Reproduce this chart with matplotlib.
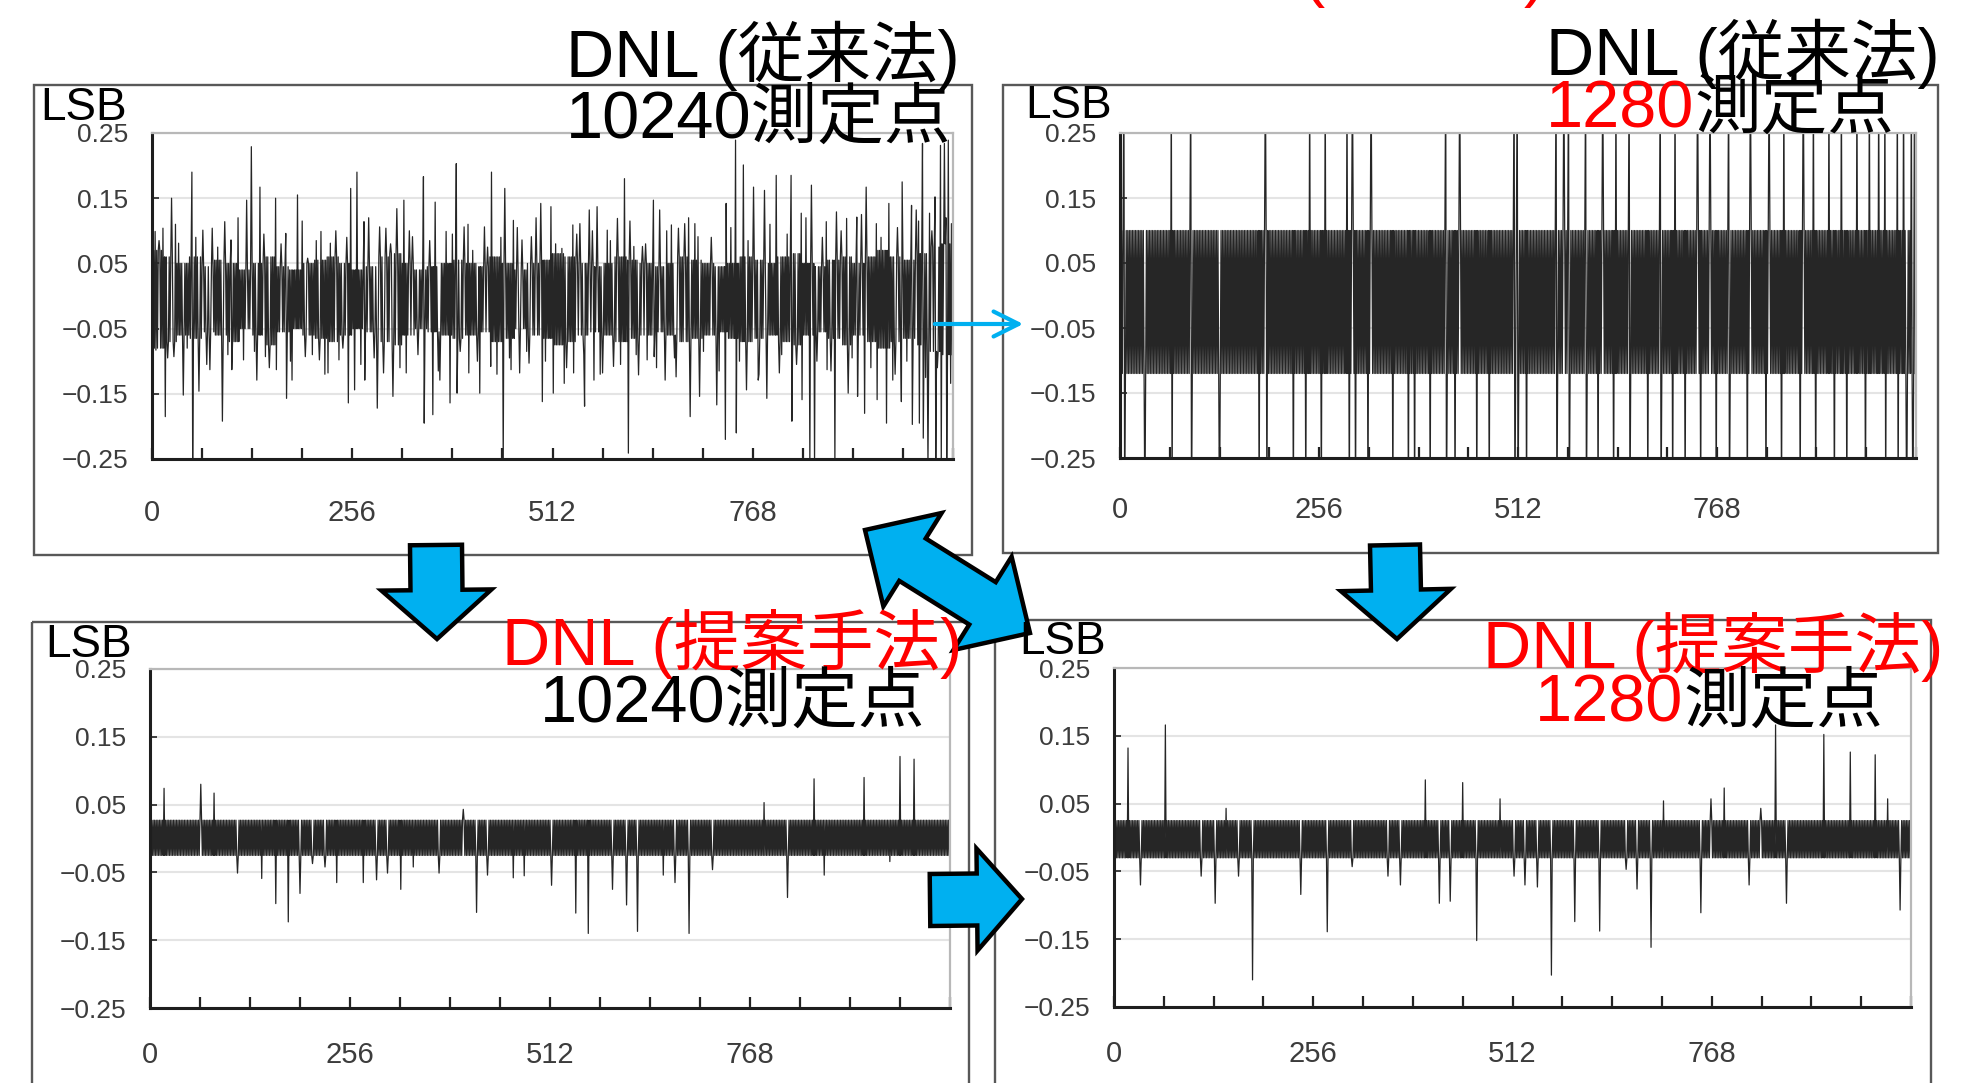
import numpy as np
import matplotlib
matplotlib.use("Agg")
import matplotlib.pyplot as plt
from matplotlib.patches import Polygon, Rectangle, FancyArrowPatch

W, H = 1977, 1083
plt.rcParams['font.family'] = ['Liberation Sans', 'Noto Sans CJK JP', 'DejaVu Sans']

codes = np.arange(1024)

# ---- 従来法 10240測定点 (ノイズ帯の上下、16コードごと) ----
tl_hi = [0.07, 0.06, 0.05, 0.06, 0.045, 0.055, 0.05, 0.04,
         0.05, 0.06, 0.045, 0.04, 0.05, 0.055, 0.06, 0.05,
         0.04, 0.045, 0.06, 0.065, 0.05, 0.04, 0.045, 0.05,
         0.055, 0.05, 0.045, 0.06, 0.05, 0.04, 0.05, 0.055,
         0.065, 0.06, 0.05, 0.045, 0.05, 0.06, 0.055, 0.05,
         0.045, 0.05, 0.06, 0.055, 0.05, 0.045, 0.05, 0.06,
         0.055, 0.05, 0.06, 0.065, 0.05, 0.045, 0.055, 0.06,
         0.05, 0.06, 0.07, 0.06, 0.055, 0.065, 0.075, 0.08]
tl_lo = [-0.08, -0.07, -0.06, -0.065, -0.055, -0.06, -0.07, -0.05,
         -0.06, -0.075, -0.055, -0.05, -0.06, -0.065, -0.07, -0.06,
         -0.05, -0.055, -0.07, -0.075, -0.06, -0.05, -0.055, -0.06,
         -0.065, -0.06, -0.055, -0.07, -0.065, -0.05, -0.06, -0.065,
         -0.075, -0.07, -0.06, -0.055, -0.06, -0.07, -0.065, -0.06,
         -0.055, -0.06, -0.07, -0.065, -0.06, -0.055, -0.065, -0.07,
         -0.065, -0.06, -0.07, -0.075, -0.06, -0.055, -0.065, -0.075,
         -0.06, -0.07, -0.08, -0.07, -0.065, -0.075, -0.085, -0.09]
# 中くらいの振れ
tl_mid_code = [9, 20, 30, 45, 56, 70, 84, 97, 110, 131, 143, 150, 165, 177, 192, 205,
               210, 221, 235, 244, 249, 267, 277, 284, 305, 317, 329, 340, 355, 366,
               384, 394, 404, 416, 429, 441, 446, 457, 467, 479, 491, 503, 516, 530,
               543, 552, 563, 573, 586, 599, 611, 619, 631, 645, 658, 668, 686, 705,
               715, 725, 740, 751, 762, 776, 790, 805, 812, 824, 836, 850, 857, 868,
               881, 895, 907, 919, 932, 950, 953, 965, 980, 989, 997, 1004, 1015]
tl_mid_val = [0.085, -0.095, 0.11, -0.08, 0.09, -0.105, 0.075, -0.09, 0.12, -0.085,
              0.095, -0.11, 0.08, -0.1, 0.115, -0.09, 0.085, -0.12, 0.1, -0.08,
              0.09, -0.105, 0.12, -0.095, 0.08, -0.11, 0.1, -0.09, 0.085, -0.115,
              0.095, -0.085, 0.11, -0.1, 0.075, -0.12, 0.09, -0.095, 0.105, -0.085,
              0.12, -0.1, 0.08, -0.11, 0.095, -0.09, 0.1, -0.12, 0.085, -0.105,
              0.115, -0.09, 0.08, -0.11, 0.1, -0.095, 0.12, -0.085, 0.09, -0.115,
              0.105, -0.1, 0.085, -0.12, 0.11, -0.09, 0.095, -0.105, 0.12, -0.1,
              0.09, -0.115, 0.1, -0.095, 0.125, -0.11, 0.09, -0.12, 0.105, -0.1,
              0.115, -0.125, 0.1, -0.11, 0.12]
tl_up_code = [4, 14, 25, 34, 51, 65, 77, 93, 101, 121, 127, 138, 158, 171, 186, 199,
              216, 228, 254, 262, 271, 291, 299, 313, 322, 333, 347, 362, 376, 389,
              399, 410, 425, 434, 451, 462, 473, 485, 497, 510, 524, 538, 547, 559,
              569, 582, 595, 604, 616, 627, 641, 649, 664, 673, 681, 694, 698, 734,
              746, 756, 769, 783, 798, 817, 830, 843, 862, 875, 888, 901, 913, 926,
              942, 959, 971, 977, 985, 994, 1001, 1008, 1013, 1018, 1022]
tl_up_val = [0.099, 0.104, 0.150, 0.081, 0.190, 0.101, 0.104, 0.114, 0.086, 0.147,
             0.229, 0.167, 0.150, 0.096, 0.155, 0.058, 0.099, 0.081, 0.165, 0.190,
             0.114, 0.106, 0.104, 0.134, 0.147, 0.091, 0.183, 0.144, 0.099, 0.203,
             0.106, 0.070, 0.106, 0.190, 0.165, 0.116, 0.086, 0.091, 0.142, 0.137,
             0.073, 0.109, 0.111, 0.132, 0.137, 0.101, 0.119, 0.180, 0.076, 0.076,
             0.147, 0.132, 0.109, 0.104, 0.111, 0.111, 0.091, 0.142, 0.239, 0.201,
             0.167, 0.162, 0.185, 0.185, 0.127, 0.170, 0.114, 0.129, 0.119, 0.121,
             0.167, 0.111, 0.142, 0.175, 0.139, 0.132, 0.234, 0.127, 0.152, 0.231,
             0.234, 0.239, 0.111]
tl_dn_code = [5, 17, 28, 40, 52, 60, 74, 90, 102, 117, 134, 145, 159, 172, 179, 196,
              214, 225, 239, 251, 259, 272, 288, 296, 308, 325, 348, 359, 368, 381,
              390, 405, 419, 433, 449, 459, 470, 482, 499, 513, 527, 539, 553, 565,
              576, 590, 609, 622, 633, 642, 656, 670, 688, 700, 722, 733, 747, 760,
              775, 786, 802, 818, 831, 841, 847, 863, 873, 890, 902, 911, 927, 939,
              947, 958, 972, 981, 986, 992, 1002, 1009, 1016, 1021]
tl_dn_val = [-0.083, -0.185, -0.093, -0.152, -0.26, -0.146, -0.113, -0.192, -0.113,
             -0.098, -0.129, -0.093, -0.113, -0.157, -0.129, -0.093, -0.098, -0.118,
             -0.098, -0.164, -0.144, -0.129, -0.172, -0.118, -0.154, -0.118, -0.195,
             -0.182, -0.129, -0.164, -0.149, -0.118, -0.149, -0.108, -0.26, -0.113,
             -0.118, -0.103, -0.162, -0.149, -0.134, -0.118, -0.169, -0.129, -0.118,
             -0.108, -0.241, -0.121, -0.098, -0.093, -0.129, -0.124, -0.185, -0.154,
             -0.167, -0.220, -0.210, -0.144, -0.129, -0.157, -0.118, -0.192, -0.159,
             -0.26, -0.26, -0.113, -0.26, -0.149, -0.154, -0.180, -0.159, -0.195,
             -0.129, -0.162, -0.197, -0.195, -0.218, -0.26, -0.26, -0.26, -0.26, -0.134]

# ---- 従来法 1280測定点 ----
tr_hi, tr_lo = 0.10, -0.12
tr_up_code = [5, 66, 91, 187, 244, 264, 292, 299, 323, 419, 437, 507, 511, 561, 571,
              577, 599, 621, 638, 655, 695, 714, 743, 759, 783, 811, 835, 854, 879,
              892, 912, 928, 948, 964, 976, 984, 1000, 1008, 1018, 1022]
tr_dn_code = [6, 32, 67, 92, 128, 179, 189, 223, 239, 259, 295, 303, 319, 351, 371,
              379, 399, 420, 431, 459, 475, 508, 512, 523, 562, 578, 600, 615, 635,
              656, 679, 696, 711, 727, 747, 767, 784, 807, 831, 851, 875, 895, 919,
              935, 959, 985, 1001, 1012, 1020]
tr_up_val, tr_dn_val = 0.35, -0.35   # 軸外まで振り切れ

# ---- 提案手法 10240測定点 ----
bl_hi, bl_lo = 0.027, -0.025
bl_up_code = [18, 65, 82, 401, 786, 850, 914, 960, 978]
bl_up_val = [0.074, 0.080, 0.067, 0.043, 0.053, 0.088, 0.090, 0.121, 0.117]
bl_dn_code = [112, 143, 161, 177, 192, 208, 224, 239, 273, 290, 304, 321, 337, 370,
              418, 432, 465, 479, 514, 545, 561, 592, 610, 624, 657, 672, 690, 720,
              816, 863, 947]
bl_dn_val = [-0.051, -0.059, -0.096, -0.123, -0.081, -0.037, -0.042, -0.065, -0.065,
             -0.061, -0.051, -0.075, -0.042, -0.051, -0.109, -0.054, -0.058, -0.055,
             -0.069, -0.110, -0.140, -0.075, -0.098, -0.137, -0.054, -0.065, -0.140,
             -0.046, -0.087, -0.054, -0.034]

# ---- 提案手法 1280測定点 ----
br_hi, br_lo = 0.025, -0.030
br_up_code = [18, 66, 144, 400, 448, 496, 706, 767, 784, 831, 850, 912, 946, 978, 994]
br_up_val = [0.132, 0.166, 0.043, 0.085, 0.081, 0.057, 0.054, 0.057, 0.073, 0.043,
             0.166, 0.152, 0.126, 0.122, 0.057]
br_dn_code = [34, 112, 130, 160, 178, 240, 274, 306, 352, 368, 418, 432, 466, 514,
              528, 544, 562, 592, 624, 658, 672, 690, 754, 816, 864, 1010]
br_dn_val = [-0.070, -0.057, -0.097, -0.057, -0.210, -0.084, -0.139, -0.043, -0.057,
             -0.070, -0.097, -0.094, -0.152, -0.057, -0.070, -0.073, -0.203, -0.124,
             -0.138, -0.047, -0.076, -0.162, -0.111, -0.070, -0.097, -0.107]

yticks = [0.25, 0.15, 0.05, -0.05, -0.15, -0.25]
ylabels = ['0.25', '0.15', '0.05', '\u22120.05', '\u22120.15', '\u22120.25']
xticks = list(range(0, 1025, 64))
xlabels = {0: '0', 256: '256', 512: '512', 768: '768'}


def build(hi, lo, *spikes):
    hi = np.repeat(hi, 16) if np.ndim(hi) else np.full(1024, hi)
    lo = np.repeat(lo, 16) if np.ndim(lo) else np.full(1024, lo)
    y = np.where(codes % 2 == 0, hi, lo).astype(float)
    for c, v in spikes:
        y[c] = v
    return y


def px_axes(x0, y0, x1, y1, **kw):
    return fig.add_axes([x0 / W, 1 - y1 / H, (x1 - x0) / W, (y1 - y0) / H], **kw)


def style(ax, xpad):
    ax.set_xlim(0, 1024)
    ax.set_ylim(-0.25, 0.25)
    ax.set_yticks(yticks)
    ax.set_yticklabels(ylabels)
    ax.set_xticks(xticks)
    ax.set_xticklabels([xlabels.get(t, '') for t in xticks])
    ax.tick_params(axis='x', direction='in', length=8, width=1.6, pad=xpad,
                   labelsize=21, labelcolor='#3c3c3c', color='#222222')
    ax.tick_params(axis='y', direction='in', length=5, width=1.2, pad=17,
                   labelsize=19, labelcolor='#3c3c3c', color='#222222')
    ax.grid(axis='y', color='#e4e4e4', lw=1.5)
    ax.set_axisbelow(True)
    for s in ['left', 'bottom']:
        ax.spines[s].set_color('#1e1e1e')
        ax.spines[s].set_linewidth(2.2)
    for s in ['top', 'right']:
        ax.spines[s].set_color('#b8b8b8')
        ax.spines[s].set_linewidth(1.6)


fig = plt.figure(figsize=(W / 100, H / 100), dpi=100)

# 背景の枠
bg = fig.add_axes([0, 0, 1, 1], zorder=0)
bg.set_xlim(0, W)
bg.set_ylim(H, 0)
bg.axis('off')
for (x0, y0, x1, y1) in [(34, 85, 972, 555), (1003, 85, 1938, 553),
                         (32, 622, 969, 1095), (995, 620, 1931, 1095)]:
    bg.add_patch(Rectangle((x0, y0), x1 - x0, y1 - y0, fill=False,
                           ec='#585858', lw=1.7))

tl = build(tl_hi, tl_lo, (tl_mid_code, tl_mid_val),
           (tl_up_code, tl_up_val), (tl_dn_code, tl_dn_val))
tr = build(tr_hi, tr_lo, (tr_up_code, tr_up_val), (tr_dn_code, tr_dn_val))
bl = build(bl_hi, bl_lo, (bl_up_code, bl_up_val), (bl_dn_code, bl_dn_val))
br = build(br_hi, br_lo, (br_up_code, br_up_val), (br_dn_code, br_dn_val))

panels = [
    ((152, 133, 953, 459), tl, 29),
    ((1120, 133, 1916, 458), tr, 27),
    ((150, 669, 950, 1008), bl, 24),
    ((1114, 668, 1911, 1007), br, 24),
]
for rect, y, xpad in panels:
    ax = px_axes(*rect, zorder=1)
    ax.plot(codes, y, color='#262626', lw=0.9)
    style(ax, xpad)

# 前面: 文字と矢印
ov = fig.add_axes([0, 0, 1, 1], zorder=5)
ov.set_xlim(0, W)
ov.set_ylim(H, 0)
ov.axis('off')
ov.patch.set_alpha(0)

BIG = 48
RED = '#ff0000'


def txt(x, y, s, color='black', size=BIG, ha='left'):
    return ov.text(x, y, s, color=color, fontsize=size, ha=ha, va='baseline')


def txt_pair(x, y, s1, c1, s2, c2):
    t1 = txt(x, y, s1, c1)
    fig.canvas.draw()
    bb = t1.get_window_extent()
    xr = ov.transData.inverted().transform((bb.x1, bb.y0))[0]
    txt(xr, y, s2, c2)


txt(1303, -6, '(従来法)', RED)

for x, y in [(40, 120), (1025, 118), (45, 657), (1019, 654)]:
    txt(x, y, 'LSB', size=33)

txt(566, 77, 'DNL (従来法)')
txt(566, 138, '10240測定点')
txt(1546, 75, 'DNL (従来法)')
txt_pair(1546, 128, '1280', RED, '測定点', 'black')
txt(502, 665, 'DNL (提案手法)', RED)
txt(540, 722, '10240測定点')
txt(1483, 668, 'DNL (提案手法)', RED)
txt_pair(1535, 722, '1280', RED, '測定点', 'black')

BLUE = '#00b0f0'


def block_arrow(p0, p1, sw, hw, hl, double=False):
    p0 = np.array(p0, float)
    p1 = np.array(p1, float)
    u = (p1 - p0) / np.hypot(*(p1 - p0))
    n = np.array([-u[1], u[0]])
    b1 = p1 - u * hl
    if double:
        b0 = p0 + u * hl
        pts = [p0, b0 + n * hw / 2, b0 + n * sw / 2, b1 + n * sw / 2, b1 + n * hw / 2,
               p1, b1 - n * hw / 2, b1 - n * sw / 2, b0 - n * sw / 2, b0 - n * hw / 2]
    else:
        pts = [p0 + n * sw / 2, b1 + n * sw / 2, b1 + n * hw / 2, p1,
               b1 - n * hw / 2, b1 - n * sw / 2, p0 - n * sw / 2]
    ov.add_patch(Polygon(pts, closed=True, fc=BLUE, ec='black', lw=3.2,
                         joinstyle='miter'))


block_arrow((436, 545), (437, 639), 52, 110, 49)
block_arrow((1395, 545), (1397, 639), 50, 110, 49)
block_arrow((930, 900), (1022, 899), 52, 102, 45)
block_arrow((865, 530), (1030, 633), 50, 110, 56, double=True)

ov.add_patch(FancyArrowPatch((932, 324), (1026, 324),
                             arrowstyle='->,head_length=0.9,head_width=0.45',
                             mutation_scale=20, color=BLUE, lw=3))

fig.savefig('out.png', dpi=100)
